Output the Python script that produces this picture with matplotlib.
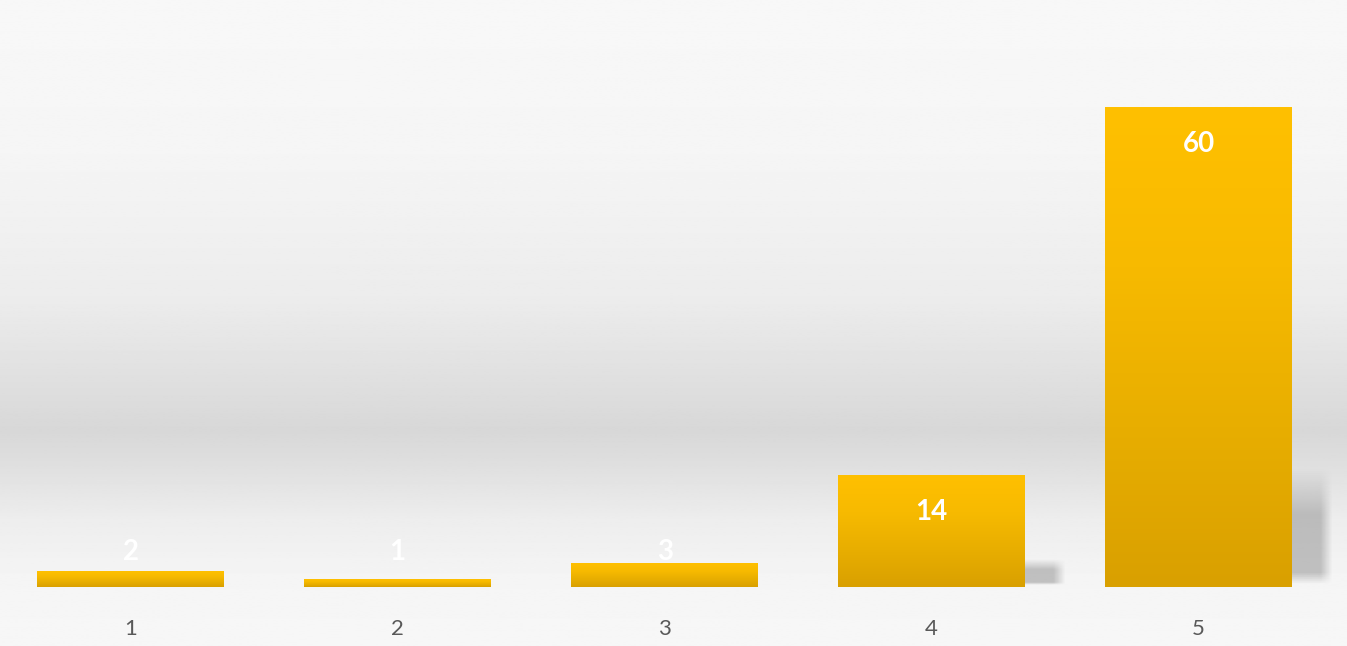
import numpy as np
import matplotlib.pyplot as plt
from matplotlib.colors import LinearSegmentedColormap

categories = ["1", "2", "3", "4", "5"]
values = [2, 1, 3, 14, 60]

W, H = 1347, 646
fig = plt.figure(figsize=(W / 100, H / 100), dpi=100)

# grey backdrop: light at top, darker band low down, light again at the bottom
bg = fig.add_axes([0, 0, 1, 1], zorder=0)
stops_y = np.array([0, 150, 300, 400, 430, 460, 520, 580, 646]) / H
stops_v = np.array([0.972, 0.962, 0.925, 0.865, 0.845, 0.87, 0.93, 0.96, 0.968])
yy = np.linspace(0, 1, 400)
grad = np.interp(yy, stops_y, stops_v)
bg.imshow(np.repeat(grad[:, None], 2, axis=1), cmap="gray", vmin=0, vmax=1,
          aspect="auto", extent=[0, 1, 1, 0])
bg.set_xlim(0, 1)
bg.set_ylim(1, 0)
bg.axis("off")

ax = fig.add_axes([0, 59 / H, 1332 / W, 560 / H], zorder=1)
ax.patch.set_alpha(0)

x = np.arange(len(values))
bars = ax.bar(x, values, width=0.70, color="#eeb200", zorder=3)
ax.set_xlim(-0.49, 4.5)
ax.set_ylim(0, 70)

bar_cmap = LinearSegmentedColormap.from_list(
    "gold", ["#d9a000", "#e8ae00", "#f7ba00", "#ffc000"])
shade = np.linspace(0, 1, 256)[:, None]
for b, v in zip(bars, values):
    x0, w = b.get_x(), b.get_width()
    im = ax.imshow(shade, cmap=bar_cmap, aspect="auto", origin="lower",
                   extent=[x0, x0 + w, 0, v], zorder=4)
    im.set_clip_path(b)

    # soft shadow to the right of the taller bars
    sh_h = 0.25 * v
    if sh_h > 1:
        ny, nx = 60, 30
        fy = np.clip(np.linspace(0, 1, ny) / 0.4, 0, 1)
        fy = np.minimum(fy, np.clip(np.linspace(1, 0, ny) / 0.1, 0, 1))
        fx = np.clip((1 - np.linspace(0, 1, nx)) / 0.3, 0, 1)
        rgba = np.zeros((ny, nx, 4))
        rgba[..., :3] = 0.5
        rgba[..., 3] = fy[:, None] * fx[None, :] * 0.45
        ax.imshow(rgba, aspect="auto", origin="upper",
                  extent=[x0 + w, x0 + w + 0.15, 0.3, sh_h], zorder=2)

    label_y = max(v - 4.6, 4.4)
    ax.text(b.get_x() + w / 2, label_y, str(v), ha="center", va="center",
            color="white", fontsize=20, fontweight="bold", family="Lato", zorder=5)

ax.set_xticks(x, categories)
ax.tick_params(length=0, pad=23, labelsize=16, labelcolor="#595959")
for lab in ax.get_xticklabels():
    lab.set_family("Lato")
ax.set_yticks([])
for s in ax.spines.values():
    s.set_visible(False)

fig.savefig("out.png", dpi=100)
